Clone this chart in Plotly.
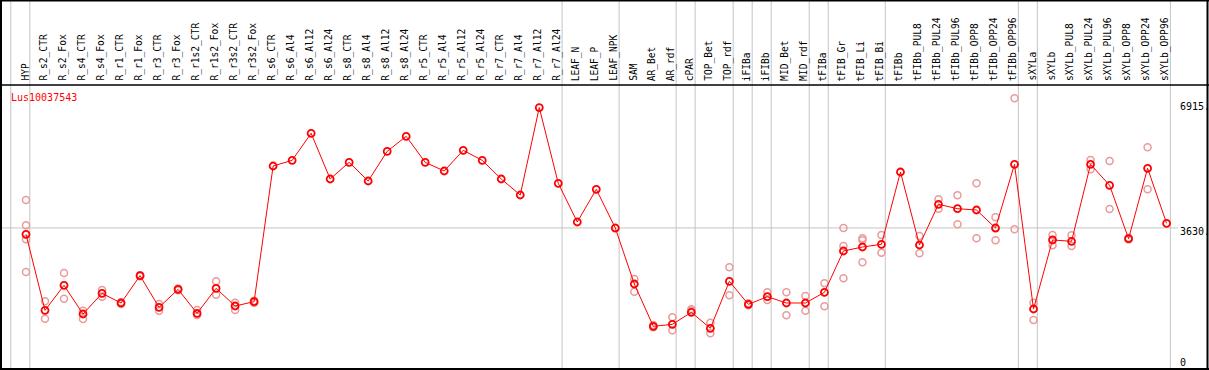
import plotly.graph_objects as go

W, H = 1209, 370

gene = "Lus10037543"

categories = [
    "HYP", "R_s2_CTR", "R_s2_Fox", "R_s4_CTR", "R_s4_Fox", "R_r1_CTR", "R_r1_Fox",
    "R_r3_CTR", "R_r3_Fox", "R_r1s2_CTR", "R_r1s2_Fox", "R_r3s2_CTR", "R_r3s2_Fox",
    "R_s6_CTR", "R_s6_Al4", "R_s6_Al12", "R_s6_Al24", "R_s8_CTR", "R_s8_Al4",
    "R_s8_Al12", "R_s8_Al24", "R_r5_CTR", "R_r5_Al4", "R_r5_Al12", "R_r5_Al24",
    "R_r7_CTR", "R_r7_Al4", "R_r7_Al12", "R_r7_Al24", "LEAF_N", "LEAF_P", "LEAF_NPK",
    "SAM", "AR_Bet", "AR_rdf", "cPAR", "TOP_Bet", "TOP_rdf", "iFIBa", "iFIBb",
    "MID_Bet", "MID_rdf", "tFIBa", "tFIB_Gr", "tFIB_Li", "tFIB_Bi", "tFIBb",
    "tFIBb_PUL8", "tFIBb_PUL24", "tFIBb_PUL96", "tFIBb_OPP8", "tFIBb_OPP24", "tFIBb_OPP96",
    "sXYLa", "sXYLb", "sXYLb_PUL8", "sXYLb_PUL24", "sXYLb_PUL96", "sXYLb_OPP8",
    "sXYLb_OPP24", "sXYLb_OPP96",
]

mean_values = [
    3458, 1400, 2076, 1300, 1859, 1598, 2338, 1480, 1967, 1318, 1995, 1516, 1634,
    5307, 5461, 6193, 4955, 5407, 4901, 5705, 6111, 5407, 5172, 5732, 5461,
    4955, 4522, 6890, 4839, 3791, 4676, 3628,
    2112, 966, 1020, 1345, 912, 2184, 1562, 1769, 1598, 1598, 1886,
    3006, 3114, 3187, 5145, 3168, 4270, 4151, 4116, 3628, 5353,
    1435, 3304, 3268, 5353, 4785, 3339, 5245, 3756,
]

replicates = [
    [4387, 3701, 3322, 2437], [1643, 1173], [2410, 1715], [1389, 1164], [1950, 1769],
    [1620, 1570], [2350, 2325], [1570, 1389], [1990, 1945], [1408, 1273],
    [2184, 1823], [1607, 1408], [1660, 1600],
    [], [], [], [], [], [], [], [], [], [], [], [], [], [], [], [], [], [], [],
    [2247, 1904], [1000, 940], [1210, 858], [1427, 1389], [1065, 777], [2563, 1805],
    [1590, 1535], [1886, 1679], [1886, 1264], [1787, 1389], [2130, 1508],
    [3628, 3141, 2266], [3349, 3300, 2700], [3439, 2960], [],
    [3412, 2943], [4405, 4151], [4514, 3728], [4839, 3349], [3918, 3295], [7141, 3593],
    [1607, 1137], [3439, 3159], [3430, 3141], [5470, 5218], [5443, 4143],
    [3360, 3320], [5813, 4676], [],
]

y_tick_values = [6915, 3630, 0]
y_tick_labels = ["6915.", "3630.", "0"]
grid_values = [3630]

# indices after which a group separator is drawn
group_ends = [-1, 0, 28, 31, 34, 35, 37, 38, 39, 41, 42, 45, 52, 53, 60]

# ---- pixel geometry ----
X0_PX, DX_PX = 26.0, 19.01       # pixel of first category, spacing
Y0_PX, KY = 362.0, 0.03693       # pixel of value 0, pixels per unit
x_range = [-X0_PX / DX_PX, (W - X0_PX) / DX_PX]
y_range = [-(H - Y0_PX) / KY, Y0_PX / KY]

def px(x):
    return x / W

def py(y):
    return 1 - y / H

idx = list(range(len(categories)))

rep_x, rep_y = [], []
for i, reps in enumerate(replicates):
    for v in reps:
        rep_x.append(i)
        rep_y.append(v)

fig = go.Figure()
fig.add_trace(go.Scatter(
    x=rep_x, y=rep_y, mode="markers",
    marker=dict(symbol="circle-open", size=7, color="#e99a9a", line=dict(width=1.5)),
    hoverinfo="skip", showlegend=False,
))
fig.add_trace(go.Scatter(
    x=idx, y=mean_values, mode="lines+markers",
    line=dict(color="#ff0000", width=1),
    marker=dict(symbol="circle-open", size=7, color="#ff0000", line=dict(width=1.8)),
    text=categories, showlegend=False,
))

shapes = []
# group separators
for g in group_ends:
    shapes.append(dict(type="line", xref="x", yref="paper", x0=g + 0.2, x1=g + 0.2,
                       y0=py(0), y1=py(369), line=dict(color="#c4c4c4", width=1), layer="below"))
# horizontal grid
for gv in grid_values:
    shapes.append(dict(type="line", xref="paper", yref="y", x0=px(1), x1=px(1178),
                       y0=gv, y1=gv, line=dict(color="#c4c4c4", width=1), layer="below"))
# frame
frame = dict(color="#000000", width=2)
shapes += [
    dict(type="line", xref="paper", yref="paper", x0=px(0), x1=px(W), y0=py(0.5), y1=py(0.5), line=frame),
    dict(type="line", xref="paper", yref="paper", x0=px(0), x1=px(W), y0=py(369), y1=py(369), line=frame),
    dict(type="line", xref="paper", yref="paper", x0=px(1), x1=px(1), y0=py(0), y1=py(H), line=frame),
    dict(type="line", xref="paper", yref="paper", x0=px(1207.5), x1=px(1207.5), y0=py(0), y1=py(H), line=frame),
    dict(type="line", xref="paper", yref="paper", x0=px(0), x1=px(W), y0=py(85), y1=py(85),
         line=dict(color="#000000", width=1.5)),
]

mono = "DejaVu Sans Mono"
annotations = []
for i, c in enumerate(categories):
    annotations.append(dict(
        x=i, xref="x", y=py(83), yref="paper", text=c, textangle=-90,
        xanchor="center", yanchor="bottom", showarrow=False, xshift=-1.5,
        font=dict(family=mono, size=9.6, color="#000000"),
    ))
yshifts = [0, -4, 0]
for v, lab, ys in zip(y_tick_values, y_tick_labels, yshifts):
    annotations.append(dict(
        x=px(1178), xref="paper", y=v, yref="y", text=lab, xanchor="left", yanchor="middle",
        showarrow=False, yshift=ys, font=dict(family=mono, size=10, color="#000000"),
    ))
annotations.append(dict(
    x=px(9), xref="paper", y=py(97), yref="paper", text=gene, xanchor="left", yanchor="middle",
    showarrow=False, font=dict(family=mono, size=10, color="#ff0000"),
))

fig.update_layout(
    width=W, height=H,
    margin=dict(l=0, r=0, t=0, b=0, pad=0),
    paper_bgcolor="white", plot_bgcolor="white",
    xaxis=dict(range=x_range, visible=False, showgrid=False, zeroline=False, fixedrange=True),
    yaxis=dict(range=y_range, visible=False, showgrid=False, zeroline=False, fixedrange=True),
    shapes=shapes, annotations=annotations,
)

fig.write_html(
    "out.html",
    config={"displayModeBar": False},
    post_script="document.body.style.margin='0px';document.body.style.overflow='hidden';",
)
